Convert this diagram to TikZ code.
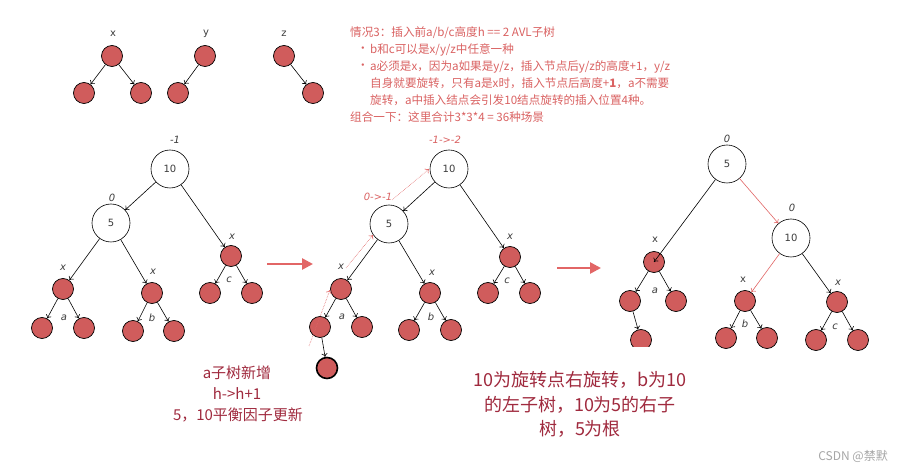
\documentclass[tikz,border=0pt]{standalone}
\usepackage{fontspec}
\setmainfont{DejaVu Sans}
\newfontfamily\cjk{Noto Sans CJK SC}
\usetikzlibrary{arrows.meta}
\definecolor{nodered}{RGB}{208,92,92}
\definecolor{txtred}{RGB}{218,98,98}
\definecolor{darkred}{RGB}{160,42,62}
\definecolor{arrred}{RGB}{226,102,102}
\definecolor{lblgray}{RGB}{60,60,60}
\begin{document}
\begin{tikzpicture}[x=1pt,y=-1pt,
  rn/.style={circle,draw=black,fill=nodered,minimum size=21pt,inner sep=0pt,line width=0.7pt},
  bn/.style={circle,draw=black,fill=white,minimum size=38pt,inner sep=0pt,line width=0.6pt,font=\fontsize{10}{12}\selectfont,text=lblgray},
  lb/.style={inner sep=0pt,font=\fontsize{10}{12}\selectfont\itshape,text=lblgray},
  ulb/.style={inner sep=0pt,font=\fontsize{10}{12}\selectfont,text=lblgray},
  rlb/.style={inner sep=0pt,font=\fontsize{10}{12}\selectfont\itshape,text=txtred},
  ed/.style={-{To[length=3.5pt,width=6pt]},line width=0.6pt},
  red/.style={-{To[length=3.5pt,width=6pt]},line width=0.6pt,draw=arrred},
  dot/.style={-{To[length=3.5pt,width=6pt]},line width=0.6pt,draw=arrred,densely dotted},
  big/.style={-{Triangle[length=11pt,width=11pt]},line width=2.6pt,draw=arrred},
  tx/.style={inner sep=0pt,anchor=west,font=\cjk\fontsize{11.6}{13}\selectfont,text=txtred},
  bt/.style={inner sep=0pt,font=\cjk\fontsize{15}{17}\selectfont,text=darkred},
  bt2/.style={inner sep=0pt,font=\cjk\fontsize{18}{20}\selectfont,text=darkred}]
\useasboundingbox[fill=white] (0,0) rectangle (906,470);

% ---- top small trees
\node[rn] (xr) at (112,56) {};
\node[rn] (xa) at (84,93) {};
\node[rn] (xb) at (141,93) {};
\node[ulb] (xl) at (113,34) {x};
\draw[ed] (xr) -- (xa);
\draw[ed] (xr) -- (xb);
\node[rn] (yr) at (205,56) {};
\node[rn] (ya) at (178,93) {};
\node[ulb] (yl) at (206,34) {y};
\draw[ed] (yr) -- (ya);
\node[rn] (zr) at (284,56) {};
\node[rn] (zb) at (313,93) {};
\node[ulb] (zl) at (284,34) {z};
\draw[ed] (zr) -- (zb);

% ---- top text
\node[tx] (t1) at (350,33) {情况3：插入前a/b/c高度h == 2 AVL子树};
\node[tx] (b1) at (357,50) {•};
\node[tx] (t2) at (370,50) {b和c可以是x/y/z中任意一种};
\node[tx] (b2) at (357,67) {•};
\node[tx] (t3) at (370,67) {a必须是x，因为a如果是y/z，插入节点后y/z的高度+1，y/z};
\node[tx] (t4) at (370,83) {自身就要旋转，只有a是x时，插入节点后高度+\textbf{1}，a不需要};
\node[tx] (t5) at (370,100) {旋转，a中插入结点会引发10结点旋转的插入位置4种。};
\node[tx] (t6) at (350,117) {组合一下：这里合计3*3*4 = 36种场景};

% ---- tree 1
\node[bn] (A10) at (170,169) {10};
\node[bn] (A5) at (111,223) {5};
\node[rn] (AL) at (63,289) {};
\node[rn] (ALa) at (42,328) {};
\node[rn] (ALb) at (84,328) {};
\node[rn] (AR) at (152,293) {};
\node[rn] (ARa) at (133,331) {};
\node[rn] (ARb) at (174,331) {};
\node[rn] (AC) at (231,256) {};
\node[rn] (ACa) at (210,293) {};
\node[rn] (ACb) at (252,293) {};
\draw[ed] (A10) -- (A5);
\draw[ed] (A10) -- (AC);
\draw[ed] (A5) -- (AL);
\draw[ed] (A5) -- (AR);
\draw[ed] (AL) -- (ALa);
\draw[ed] (AL) -- (ALb);
\draw[ed] (AR) -- (ARa);
\draw[ed] (AR) -- (ARb);
\draw[ed] (AC) -- (ACa);
\draw[ed] (AC) -- (ACb);
\node[lb] (Ab1) at (175,140) {-1};
\node[lb] (Ab2) at (112,198) {0};
\node[lb] (Ax1) at (63,268) {x};
\node[lb] (Aa) at (64,318) {a};
\node[lb] (Ax2) at (153,272) {x};
\node[lb] (Ab) at (152,318) {b};
\node[lb] (Ax3) at (232,237) {x};
\node[lb] (Ac) at (229,280) {c};

% ---- arrow 1
\coordinate (g1s) at (267,264);
\coordinate (g1e) at (313,264);
\draw[big] (g1s) -- (g1e);

% ---- tree 2
\node[bn] (B10) at (449,169) {10};
\node[bn] (B5) at (389,224) {5};
\node[rn] (BL) at (341,289) {};
\node[rn] (BLa) at (320,327) {};
\node[rn] (BLb) at (362,327) {};
\node[rn,line width=1.6pt] (BN) at (327,368) {};
\node[rn] (BR) at (430,293) {};
\node[rn] (BRa) at (409,330) {};
\node[rn] (BRb) at (451,330) {};
\node[rn] (BC) at (510,257) {};
\node[rn] (BCa) at (488,293) {};
\node[rn] (BCb) at (530,293) {};
\draw[ed] (B10) -- (B5);
\draw[ed] (B10) -- (BC);
\draw[ed] (B5) -- (BL);
\draw[ed] (B5) -- (BR);
\draw[ed] (BL) -- (BLa);
\draw[ed] (BL) -- (BLb);
\draw[ed] (BLa) -- (BN);
\draw[ed] (BR) -- (BRa);
\draw[ed] (BR) -- (BRb);
\draw[ed] (BC) -- (BCa);
\draw[ed] (BC) -- (BCb);
\node[rlb] (Bb1) at (445,140) {-1->-2};
\node[rlb] (Bb2) at (378,197) {0->-1};
\node[lb] (Bx1) at (341,267) {x};
\node[lb] (Ba) at (342,317) {a};
\node[lb] (Bx2) at (432,273) {x};
\node[lb] (Bb) at (431,317) {b};
\node[lb] (Bx3) at (510,237) {x};
\node[lb] (Bc) at (507,281) {c};
\coordinate (d1s) at (309,346);
\coordinate (d1e) at (330,290);
\coordinate (d2s) at (346,268);
\coordinate (d2e) at (373,235);
\coordinate (d3s) at (392,200);
\coordinate (d3e) at (429,169);
\draw[dot] (d1s) -- (d1e);
\draw[dot] (d2s) -- (d2e);
\draw[dot] (d3s) -- (d3e);

% ---- arrow 2
\coordinate (g2s) at (557,268);
\coordinate (g2e) at (601,268);
\draw[big] (g2s) -- (g2e);

% ---- tree 3
\node[bn] (C5) at (727,164) {5};
\node[bn] (C10) at (791,238) {10};
\node[rn] (CL) at (654,262) {};
\node[rn] (CLa) at (630,301) {};
\node[rn] (CLb) at (676,301) {};
\node[rn] (CLn) at (641,340) {};
\node[rn] (CB) at (745,301) {};
\node[rn] (CBa) at (726,338) {};
\node[rn] (CBb) at (767,338) {};
\node[rn] (CC) at (837,302) {};
\node[rn] (CCa) at (816,340) {};
\node[rn] (CCb) at (858,340) {};
\draw[ed] (C5) -- (CL.center);
\draw[red] (C5) -- (C10);
\draw[red] (C10) -- (CB);
\draw[ed] (C10) -- (CC);
\draw[ed] (CL) -- (CLa);
\draw[ed] (CL) -- (CLb);
\draw[ed] (CLa) -- (CLn);
\draw[ed] (CB) -- (CBa);
\draw[ed] (CB) -- (CBb);
\draw[ed] (CC) -- (CCa);
\draw[ed] (CC) -- (CCb);
\node[lb] (Cb1) at (727,139) {0};
\node[lb] (Cb2) at (792,208) {0};
\node[ulb] (Cx1) at (655,240) {x};
\node[lb] (Ca) at (655,291) {a};
\node[ulb] (Cx2) at (743,280) {x};
\node[lb] (Cb) at (745,324) {b};
\node[lb] (Cx3) at (838,283) {x};
\node[lb] (Cc) at (835,327) {c};
\fill[white] (590,347) rectangle (700,360);

% ---- bottom texts
\node[bt] (n1) at (237,373) {a子树新增};
\node[bt] (n2) at (237,394) {h->h+1};
\node[bt] (n3) at (238,415) {5，10平衡因子更新};
\node[bt2] (m1) at (580,380) {10为旋转点右旋转，b为10};
\node[bt2] (m2) at (580,405) {的左子树，10为5的右子};
\node[bt2] (m3) at (580,429) {树，5为根};
\node[inner sep=0pt,anchor=east,font=\cjk\fontsize{12}{14}\selectfont,text=black!35] (wm) at (888,456) {CSDN @禁默};
\end{tikzpicture}
\end{document}
